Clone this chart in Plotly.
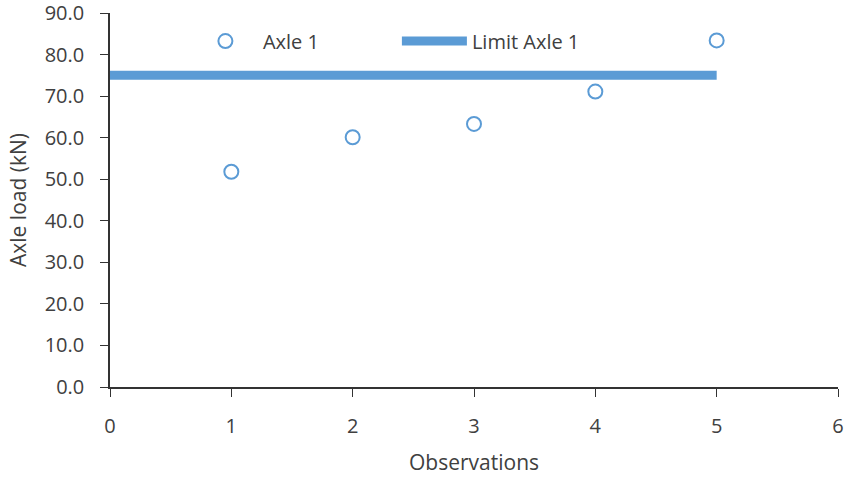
import plotly.graph_objects as go

observations = [1, 2, 3, 4, 5]
axle_load = [51.8, 60.1, 63.3, 71.1, 83.4]
limit_x = [0, 5]
limit_y = [75, 75]

blue = "#5B9BD5"
font_family = "Open Sans, Liberation Sans, sans-serif"

fig = go.Figure()
fig.add_trace(go.Scatter(
    x=observations, y=axle_load, mode="markers", name="Axle 1",
    marker=dict(symbol="circle-open", size=14, color=blue, line=dict(width=2, color=blue)),
))
fig.add_trace(go.Scatter(
    x=limit_x, y=limit_y, mode="lines", name="Limit Axle 1",
    line=dict(color=blue, width=9),
))

fig.update_layout(
    width=861, height=478,
    margin=dict(l=110, r=23, t=13, b=91, autoexpand=False),
    plot_bgcolor="white", paper_bgcolor="white",
    font=dict(family=font_family, size=20, color="#404040"),
    showlegend=True,
    legend=dict(orientation="h", x=0.107, y=0.925, xanchor="left", yanchor="middle",
                bgcolor="rgba(0,0,0,0)", itemwidth=65, entrywidth=129,
                font=dict(size=20, color="#404040"), tracegroupgap=0),
    xaxis=dict(range=[0, 6], tickvals=[0, 1, 2, 3, 4, 5, 6], showgrid=False, zeroline=False,
               showline=True, linecolor="#333333", linewidth=1.5, ticks="outside", ticklen=8,
               tickcolor="#333333", ticklabelstandoff=12, automargin=False,
               ticklabeloverflow="allow",
               title=dict(text="Observations", font=dict(size=21), standoff=18)),
    yaxis=dict(range=[0, 90], tickvals=[0, 10, 20, 30, 40, 50, 60, 70, 80, 90], tickformat=".1f",
               showgrid=False, zeroline=False, showline=True, linecolor="#333333", linewidth=1.5,
               ticks="outside", ticklen=8, tickcolor="#333333", ticklabelstandoff=12,
               automargin=False, ticklabeloverflow="allow",
               title=dict(text="Axle load (kN)", font=dict(size=21), standoff=12)),
)

fig.write_html("out.html")
